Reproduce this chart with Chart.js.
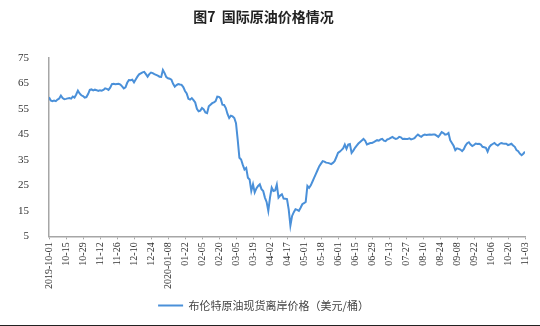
<!DOCTYPE html>
<html>
<head>
<meta charset="utf-8">
<script src="https://cdn.jsdelivr.net/npm/chart.js@4.4.0/dist/chart.umd.min.js"></script>
<style>
  html, body { margin: 0; padding: 0; background: #fff; }
  #wrap { width: 540px; height: 325px; border-bottom: 1px solid #222; }
</style>
</head>
<body>
<div id="wrap"><canvas id="chart" width="540" height="325"></canvas></div>
<script>
// x tick labels, one every 10 trading days
const tickLabels = [
  '2019-10-01', '10-15', '10-29', '11-12', '11-26', '12-10', '12-24',
  '2020-01-08', '01-22', '02-05', '02-20', '03-05', '03-19', '04-02',
  '04-17', '05-01', '05-18', '06-01', '06-15', '06-29', '07-13', '07-27',
  '08-10', '08-24', '09-08', '09-22', '10-06', '10-20', '11-03'
];

// Brent spot FOB price, USD/barrel, daily
const brent = [
  59.5, 58.3, 58.0, 58.2, 58.0, 58.6, 59.0, 60.2, 59.2, 58.8,
  58.9, 59.1, 59.2, 59.0, 59.8, 59.4, 60.6, 62.1, 61.0, 60.3,
  60.0, 59.4, 59.6, 60.8, 62.4, 62.6, 62.2, 62.5, 62.3, 62.0,
  62.3, 62.1, 62.4, 63.0, 62.8, 62.4, 63.3, 64.7, 64.8, 64.6,
  64.7, 64.8, 64.5, 63.8, 63.0, 63.4, 65.2, 66.3, 66.2, 66.4,
  65.4, 66.5, 67.6, 68.5, 68.9, 69.3, 69.5, 68.6, 67.6, 68.6,
  69.2, 69.0, 68.6, 68.3, 68.0, 67.6, 67.5, 70.2, 69.0, 67.4,
  67.0, 66.8, 66.4, 64.8, 63.7, 64.3, 64.7, 64.5, 64.4, 63.5,
  62.0, 61.0, 58.9, 58.6, 59.2, 58.4, 57.5, 55.0, 54.0, 54.3,
  55.3, 54.8, 53.6, 53.3, 56.0, 56.6, 57.2, 57.5, 58.0, 59.8,
  59.7, 59.0, 56.6, 56.5, 55.3, 53.0, 51.4, 52.3, 52.0, 51.4,
  49.4, 42.9, 35.8, 35.1, 33.0, 31.2, 31.8, 28.0, 27.3, 22.8,
  25.4, 22.2, 23.8, 24.8, 25.4, 23.5, 22.8, 20.2, 18.5, 15.0,
  20.2, 24.1, 22.8, 23.0, 25.3, 20.2, 21.0, 21.5, 19.8, 19.7,
  19.6, 15.6, 9.2, 13.0, 14.5, 15.6, 15.4, 15.0, 16.2, 17.6,
  18.0, 18.5, 24.8, 24.0, 25.0, 26.5, 28.0, 29.5, 31.0, 32.5,
  33.5, 34.5, 34.3, 33.9, 33.8, 33.6, 33.3, 33.8, 34.5, 36.0,
  37.7, 38.2, 38.8, 39.5, 41.0, 39.3, 41.0, 41.2, 37.7, 38.6,
  39.7, 40.6, 41.4, 42.0, 42.6, 43.2, 42.5, 41.0, 41.3, 41.6,
  41.6, 41.9, 42.3, 42.7, 42.5, 43.0, 43.2, 42.5, 42.3, 43.0,
  43.2, 43.6, 44.0, 43.5, 43.2, 43.4, 44.0, 43.8, 43.2, 43.3,
  43.2, 43.2, 43.4, 43.0, 43.2, 43.5, 44.3, 44.9, 44.4, 44.0,
  44.6, 44.9, 44.7, 44.8, 44.9, 44.8, 44.9, 44.9, 44.5, 44.0,
  44.9, 45.9, 45.5, 44.9, 45.0, 45.5, 42.7, 41.6, 40.5, 38.8,
  39.5, 39.3, 39.0, 38.4, 39.2, 40.6, 41.5, 41.9, 41.0, 40.4,
  40.8, 41.4, 41.2, 41.3, 41.0, 40.1, 39.9, 39.7, 38.2, 40.0,
  40.8, 41.2, 41.6, 41.0, 40.6, 41.2, 41.6, 41.4, 41.3, 41.3,
  40.8, 41.0, 41.3, 40.6, 40.1, 38.8, 38.4, 37.4, 36.8, 37.4, 38.2
];

const seriesName = '布伦特原油现货离岸价格（美元/桶）';
const blue = '#4a90d9';
const axisGray = '#a6a6a6';
const serif = "'Liberation Serif', 'Times New Roman', serif";
const cjk = "'Noto Sans CJK SC', sans-serif";

new Chart(document.getElementById('chart'), {
  type: 'line',
  data: {
    datasets: [{
      label: seriesName,
      data: brent.map((v, i) => ({ x: i, y: v })),
      borderColor: blue,
      backgroundColor: blue,
      borderWidth: 2,
      pointRadius: 0,
      tension: 0
    }]
  },
  options: {
    responsive: false,
    animation: false,
    layout: { padding: { left: 0, right: 13, top: 0, bottom: 4 } },
    plugins: {
      title: {
        display: true,
        text: '图7  国际原油价格情况',
        color: '#222',
        font: { family: cjk, size: 14, weight: 'bold' },
        padding: { top: 8, bottom: 33 }
      },
      legend: {
        position: 'bottom',
        labels: {
          usePointStyle: true,
          pointStyle: 'line',
          pointStyleWidth: 25,
          color: '#444',
          font: { family: cjk, size: 11 },
          padding: 8
        }
      },
      tooltip: { enabled: false }
    },
    scales: {
      x: {
        type: 'linear',
        min: 0,
        max: brent.length - 1,
        grid: { display: true, drawOnChartArea: false, drawTicks: true, tickLength: 3, color: axisGray },
        border: { color: axisGray, width: 1.5 },
        ticks: {
          stepSize: 10,
          autoSkip: false,
          maxRotation: 90,
          minRotation: 90,
          padding: 3,
          color: '#333',
          font: { family: serif, size: 10 },
          callback: (v) => tickLabels[v / 10]
        }
      },
      y: {
        min: 5,
        max: 75,
        grid: { display: false },
        border: { color: axisGray, width: 1.5 },
        ticks: {
          stepSize: 10,
          padding: 12,
          color: '#333',
          font: { family: serif, size: 11 }
        },
        afterFit: (scale) => { scale.width = 49; }
      }
    }
  }
});
</script>
</body>
</html>
